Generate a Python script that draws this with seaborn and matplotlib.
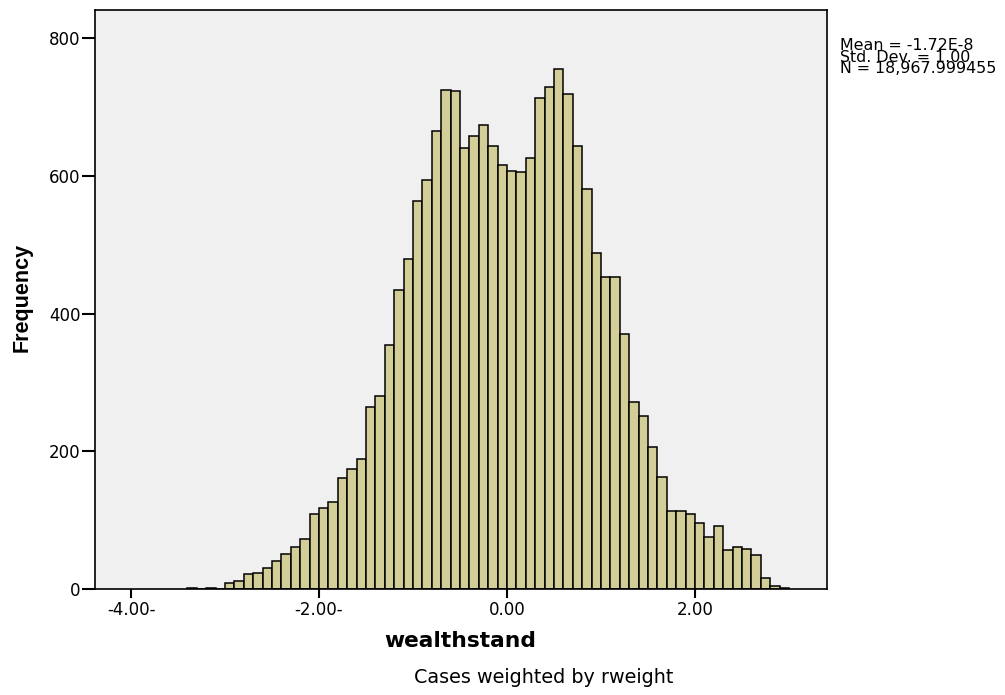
import pandas as pd
import matplotlib
matplotlib.use("Agg")
import matplotlib.pyplot as plt
import seaborn as sns

# Weighted frequency of the standardised wealth index, 0.1-wide bins
bin_start = -3.4
bin_width = 0.1
counts = [
    1, 0, 2, 0, 8, 12, 22, 23, 31, 41,
    51, 61, 72, 109, 118, 127, 161, 174, 189, 265,
    281, 354, 434, 479, 564, 594, 665, 725, 724, 641,
    658, 674, 644, 616, 608, 606, 627, 714, 729, 756,
    720, 644, 582, 489, 454, 454, 370, 272, 251, 206,
    163, 114, 114, 109, 96, 76, 92, 57, 61, 58,
    50, 16, 5, 2,
]

x_ticks = [-4, -2, 0, 2]
x_tick_labels = ["-4.00-", "-2.00-", "0.00", "2.00"]
y_ticks = [0, 200, 400, 600, 800]
y_tick_labels = ["0", "200", "400", "600", "800"]

stats_lines = ["Mean = -1.72E-8", "Std. Dev. = 1.00", "N = 18,967.999455"]
x_label = "wealthstand"
y_label = "Frequency"
footnote = "Cases weighted by rweight"

edges = [bin_start + bin_width * i for i in range(len(counts) + 1)]
centers = [(a + b) / 2 for a, b in zip(edges[:-1], edges[1:])]
df = pd.DataFrame({"wealthstand": centers, "rweight": counts})

sns.set_style("white")
plt.rcParams["font.family"] = ["DejaVu Sans"]
plt.rcParams["text.color"] = "black"

W, H = 1005, 695
fig = plt.figure(figsize=(W / 100, H / 100), dpi=100)
fig.patch.set_facecolor("white")
ax = fig.add_axes([95 / W, (H - 589) / H, (827 - 95) / W, (589 - 10) / H])
ax.set_facecolor("#F0F0F0")

sns.histplot(
    data=df, x="wealthstand", weights="rweight", bins=edges, ax=ax,
    stat="count", element="bars", fill=True,
    color="#D3CE98", alpha=1.0, edgecolor="black", linewidth=1.1,
)

ax.set_xlim(-4.383, 3.404)
ax.set_ylim(0, 841.4)

ax.set_xticks(x_ticks)
ax.set_xticklabels(x_tick_labels)
ax.set_yticks(y_ticks)
ax.set_yticklabels(y_tick_labels)
ax.tick_params(axis="both", which="major", bottom=True, left=True,
               direction="out", width=1.5, color="black",
               labelsize=12, labelcolor="black")
ax.tick_params(axis="x", length=6.5, pad=2)
ax.tick_params(axis="y", length=9.4, pad=1)

for side in ["top", "bottom", "left", "right"]:
    ax.spines[side].set_visible(True)
    ax.spines[side].set_color("black")
    ax.spines[side].set_linewidth(1.2)

ax.set_xlabel("")
ax.set_ylabel("")

fig.text(22 / W, 1 - 297.5 / H, y_label, rotation=90, ha="center", va="center",
         fontsize=15.5, fontweight="bold", family="Liberation Sans")
fig.text(460.5 / W, 1 - 647.3 / H, x_label, ha="center", va="baseline",
         fontsize=15.7, fontweight="bold")
fig.text(543.5 / W, 1 - 683 / H, footnote, ha="center", va="baseline",
         fontsize=13.8)

# Summary statistics block, tightly stacked lines
fig.text(839.5 / W, 1 - 38.5 / H, "\n".join(stats_lines), ha="left",
         va="top", fontsize=11.4, linespacing=0.7)

fig.savefig("out.png", dpi=100, facecolor="white")
